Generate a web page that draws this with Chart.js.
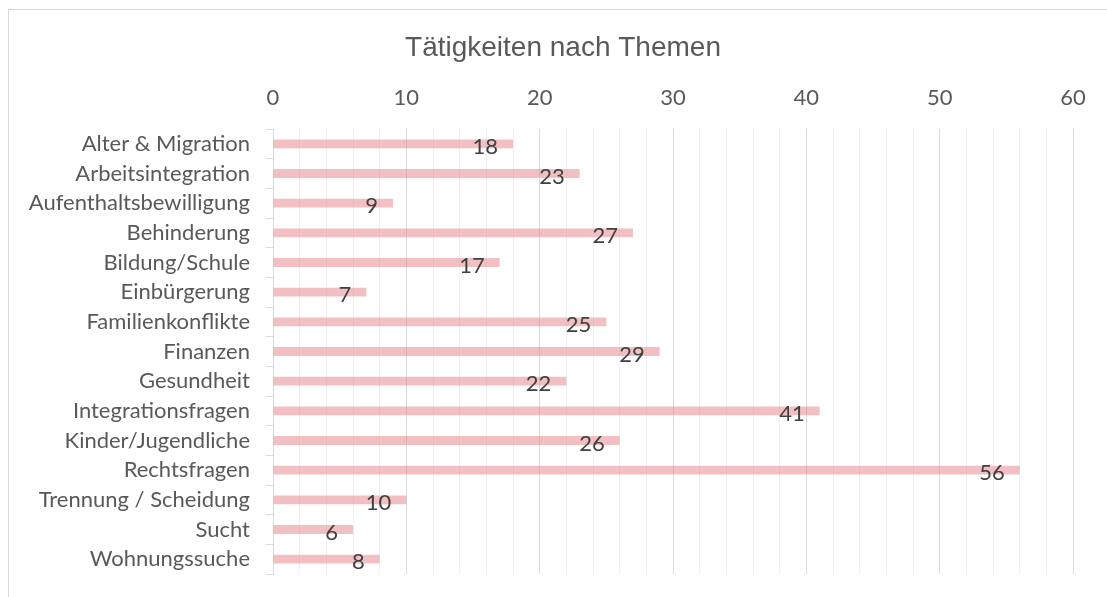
<!DOCTYPE html>
<html>
<head>
<meta charset="utf-8">
<script src="https://cdn.jsdelivr.net/npm/chart.js@4"></script>
<style>
  body { margin: 0; background: #fff; overflow: hidden; }
  #wrap { position: relative; width: 1107px; height: 597px; }
  #frame { position: absolute; left: 8px; top: 9px; width: 1200px; height: 700px; border: 1px solid #d9d9d9; box-sizing: border-box; }
  canvas { position: absolute; left: 0; top: 0; }
</style>
</head>
<body>
<div id="wrap">
  <div id="frame"></div>
  <canvas id="chart" width="1107" height="597"></canvas>
</div>
<script>
const TITLE = 'Tätigkeiten nach Themen';

const categories = [
  'Alter & Migration',
  'Arbeitsintegration',
  'Aufenthaltsbewilligung',
  'Behinderung',
  'Bildung/Schule',
  'Einbürgerung',
  'Familienkonflikte',
  'Finanzen',
  'Gesundheit',
  'Integrationsfragen',
  'Kinder/Jugendliche',
  'Rechtsfragen',
  'Trennung / Scheidung',
  'Sucht',
  'Wohnungssuche'
];

const values = [18, 23, 9, 27, 17, 7, 25, 29, 22, 41, 26, 56, 10, 6, 8];

const axisMin = 0;
const axisMax = 60;
const majorStep = 10;
const minorStep = 2;

const FONT = 'Lato, "Open Sans", sans-serif';
const TITLE_FONT = '"Liberation Sans", Arial, sans-serif';

// labels at the inner end of each bar
const barLabels = {
  id: 'barLabels',
  afterDatasetsDraw(chart) {
    const ctx = chart.ctx;
    const meta = chart.getDatasetMeta(0);
    ctx.save();
    ctx.font = '22px ' + FONT;
    ctx.fillStyle = '#404040';
    ctx.textAlign = 'right';
    ctx.textBaseline = 'middle';
    meta.data.forEach((bar, i) => {
      ctx.fillText(String(values[i]), bar.x - 15, bar.y + 3);
    });
    ctx.restore();
  }
};

// title is centred with a left padding, so let the long y labels run into it
const unclipLabels = {
  id: 'unclipLabels',
  afterLayout(chart) {
    chart.scales.y.left = 0;
  }
};

const main = () => {
  const canvas = document.getElementById('chart');

  const data = {
    labels: categories,
    datasets: [{
      label: 'Anzahl',
      data: values,
      backgroundColor: 'rgba(230,130,135,0.5)',
      borderWidth: 0,
      barPercentage: 0.3,
      categoryPercentage: 1
    }]
  };

  const options = {
    indexAxis: 'y',
    responsive: false,
    animation: false,
    layout: { padding: { left: 53, right: 34, top: 0, bottom: 23 } },
    plugins: {
      legend: { display: false },
      tooltip: { enabled: false },
      title: {
        display: true,
        text: TITLE,
        color: '#595959',
        font: { family: TITLE_FONT, size: 28, weight: 'normal', lineHeight: 1.2 },
        padding: { top: 31, bottom: 10 }
      }
    },
    scales: {
      x: {
        position: 'top',
        min: axisMin,
        max: axisMax,
        afterFit: (scale) => { scale.height = 129 - 31 - 33.6 - 10; },
        border: { display: false },
        grid: {
          drawTicks: false,
          color: (c) => (c.tick && c.tick.value % majorStep === 0) ? '#d9d9d9' : '#f0f0f0',
          lineWidth: 1
        },
        ticks: {
          stepSize: minorStep,
          autoSkip: false,
          maxRotation: 0,
          padding: 18,
          color: '#595959',
          font: { family: FONT, size: 22 },
          callback: (v) => (v % majorStep === 0 ? v : '')
        }
      },
      y: {
        afterFit: (scale) => {
          scale.width = 273 - 53;
          scale.paddingTop = 0;
          scale.paddingBottom = 0;
        },
        border: { display: true, color: '#d9d9d9' },
        grid: {
          offset: true,
          drawOnChartArea: false,
          drawTicks: true,
          tickLength: 7,
          color: '#d9d9d9'
        },
        ticks: {
          padding: 16,
          autoSkip: false,
          color: '#595959',
          font: { family: FONT, size: 22 }
        }
      }
    }
  };

  new Chart(canvas, {
    type: 'bar',
    data,
    options,
    plugins: [barLabels, unclipLabels]
  });
};

main();
</script>
</body>
</html>
